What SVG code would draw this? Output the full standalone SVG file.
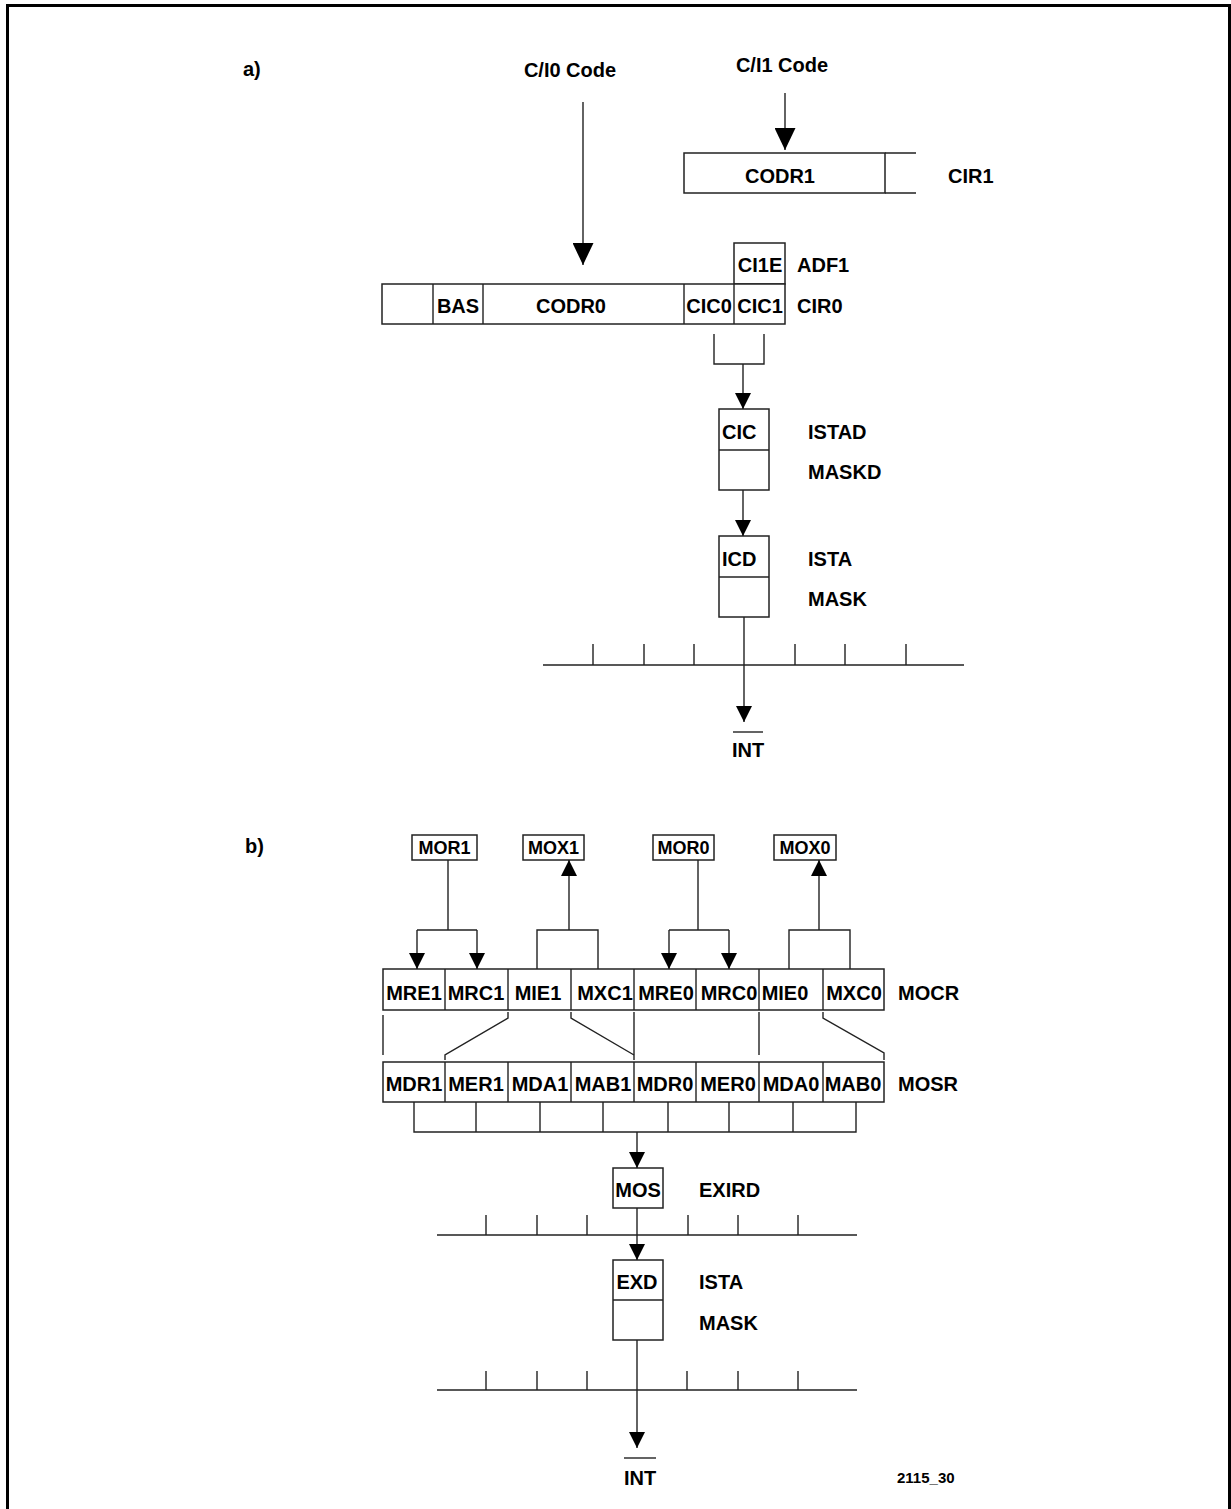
<svg xmlns="http://www.w3.org/2000/svg" width="1231" height="1509" viewBox="0 0 1231 1509">
<style>
.t{font-family:"Liberation Sans",Arial,sans-serif;font-size:20px;font-weight:bold;fill:#000}
.s{font-size:18px}
.c{text-anchor:middle}
.b{fill:#fff;stroke:#222;stroke-width:1.5}
.l{fill:none;stroke:#222;stroke-width:1.4}
</style>
<defs>
<marker id="big" markerUnits="userSpaceOnUse" markerWidth="22" markerHeight="21" refX="22" refY="10.5" orient="auto" viewBox="0 0 22 21"><path d="M0,0 L22,10.5 L0,21 Z" fill="#000"/></marker>
<marker id="sm" markerUnits="userSpaceOnUse" markerWidth="16" markerHeight="16" refX="16" refY="8" orient="auto" viewBox="0 0 16 16"><path d="M0,0 L16,8 L0,16 Z" fill="#000"/></marker>
</defs>
<rect width="1231" height="1509" fill="#fff"/>
<path d="M7.5,1509 V5.5 H1229.5 V1509" fill="none" stroke="#000" stroke-width="3"/>

<g id="labels">
<text class="t" x="243" y="76">a)</text>
<text class="t" x="245" y="853">b)</text>
<text class="t" x="897" y="1483" style="font-size:15px">2115_30</text>
</g>

<g id="ci0-code"><text class="t c" x="570" y="77">C/I0 Code</text></g>
<g id="ci1-code"><text class="t c" x="782" y="72">C/I1 Code</text></g>

<g id="cir1">
<rect class="b" x="684" y="153" width="201" height="40"/>
<path class="l" d="M885,153 H916 M885,193 H916"/>
<text class="t c" x="780" y="183">CODR1</text>
<text class="t" x="948" y="183">CIR1</text>
</g>

<g id="adf1">
<rect class="b" x="734" y="243" width="51" height="41"/>
<text class="t c" x="760" y="272">CI1E</text>
<text class="t" x="797" y="272">ADF1</text>
</g>

<g id="cir0">
<rect class="b" x="382" y="284" width="403" height="40"/>
<path class="l" d="M433,284 V324 M483,284 V324 M684,284 V324 M734,284 V324"/>
<text class="t c" x="458" y="313">BAS</text>
<text class="t c" x="571" y="313">CODR0</text>
<text class="t c" x="709" y="313">CIC0</text>
<text class="t c" x="760" y="313">CIC1</text>
<text class="t" x="797" y="313">CIR0</text>
</g>

<g id="istad">
<rect class="b" x="719" y="409" width="50" height="81"/>
<path class="l" d="M719,450 H769"/>
<text class="t" x="722" y="439">CIC</text>
<text class="t" x="808" y="439">ISTAD</text>
<text class="t" x="808" y="479">MASKD</text>
</g>

<g id="ista-a">
<rect class="b" x="719" y="536" width="50" height="81"/>
<path class="l" d="M719,577 H769"/>
<text class="t" x="722" y="566">ICD</text>
<text class="t" x="808" y="566">ISTA</text>
<text class="t" x="808" y="606">MASK</text>
</g>

<g id="bus-a">
<path class="l" d="M543,665 H964 M593,644 V665 M644,644 V665 M694,644 V665 M795,644 V665 M845,644 V665 M906,644 V665"/>
</g>

<g id="int-a">
<path class="l" d="M733,732 H763"/>
<text class="t c" x="748" y="757">INT</text>
</g>

<g id="mor1"><rect class="b" x="412" y="835" width="65" height="25"/><text class="t s c" x="444.5" y="854">MOR1</text></g>
<g id="mox1"><rect class="b" x="523" y="835" width="61" height="25"/><text class="t s c" x="553.5" y="854">MOX1</text></g>
<g id="mor0"><rect class="b" x="653" y="835" width="61" height="25"/><text class="t s c" x="683.5" y="854">MOR0</text></g>
<g id="mox0"><rect class="b" x="774" y="835" width="62" height="25"/><text class="t s c" x="805" y="854">MOX0</text></g>

<g id="mocr">
<rect class="b" x="383" y="969" width="501" height="41"/>
<path class="l" d="M445,969 V1010 M508,969 V1010 M571,969 V1010 M634,969 V1010 M696,969 V1010 M759,969 V1010 M823,969 V1010"/>
<text class="t c" x="414" y="1000">MRE1</text>
<text class="t c" x="476" y="1000">MRC1</text>
<text class="t c" x="538" y="1000">MIE1</text>
<text class="t c" x="605" y="1000">MXC1</text>
<text class="t c" x="666" y="1000">MRE0</text>
<text class="t c" x="729" y="1000">MRC0</text>
<text class="t c" x="785" y="1000">MIE0</text>
<text class="t c" x="854" y="1000">MXC0</text>
<text class="t" x="898" y="1000">MOCR</text>
</g>

<g id="mosr">
<rect class="b" x="383" y="1062" width="501" height="40"/>
<path class="l" d="M445,1062 V1102 M508,1062 V1102 M571,1062 V1102 M634,1062 V1102 M696,1062 V1102 M759,1062 V1102 M823,1062 V1102"/>
<text class="t c" x="414" y="1091">MDR1</text>
<text class="t c" x="476" y="1091">MER1</text>
<text class="t c" x="540" y="1091">MDA1</text>
<text class="t c" x="603" y="1091">MAB1</text>
<text class="t c" x="665" y="1091">MDR0</text>
<text class="t c" x="728" y="1091">MER0</text>
<text class="t c" x="791" y="1091">MDA0</text>
<text class="t c" x="853" y="1091">MAB0</text>
<text class="t" x="898" y="1091">MOSR</text>
</g>

<g id="mos">
<rect class="b" x="613" y="1168" width="50" height="40"/>
<text class="t c" x="638" y="1197">MOS</text>
<text class="t" x="699" y="1197">EXIRD</text>
</g>

<g id="bus-b1">
<path class="l" d="M437,1235 H857 M486,1215 V1235 M537,1215 V1235 M587,1215 V1235 M688,1215 V1235 M738,1215 V1235 M798,1215 V1235"/>
</g>

<g id="ista-b">
<rect class="b" x="613" y="1260" width="50" height="80"/>
<path class="l" d="M613,1300 H663"/>
<text class="t c" x="637" y="1289">EXD</text>
<text class="t" x="699" y="1289">ISTA</text>
<text class="t" x="699" y="1330">MASK</text>
</g>

<g id="bus-b2">
<path class="l" d="M437,1390 H857 M486,1371 V1390 M537,1371 V1390 M587,1371 V1390 M687,1371 V1390 M738,1371 V1390 M798,1371 V1390"/>
</g>

<g id="int-b">
<path class="l" d="M624,1458 H656"/>
<text class="t c" x="640" y="1485">INT</text>
</g>

<g id="connectors">
<path class="l" d="M583,102 V265" marker-end="url(#big)"/>
<path class="l" d="M785,93 V150" marker-end="url(#big)"/>
<path class="l" d="M714,334 V364 H764 V334"/>
<path class="l" d="M743,364 V409" marker-end="url(#sm)"/>
<path class="l" d="M743,490 V536" marker-end="url(#sm)"/>
<path class="l" d="M744,617 V722" marker-end="url(#sm)"/>

<path class="l" d="M448,860 V930 M417,930 H477"/>
<path class="l" d="M417,930 V969" marker-end="url(#sm)"/>
<path class="l" d="M477,930 V969" marker-end="url(#sm)"/>
<path class="l" d="M537,969 V930 H598 V969"/>
<path class="l" d="M569,930 V860" marker-end="url(#sm)"/>
<path class="l" d="M698,860 V930 M669,930 H729"/>
<path class="l" d="M669,930 V969" marker-end="url(#sm)"/>
<path class="l" d="M729,930 V969" marker-end="url(#sm)"/>
<path class="l" d="M789,969 V930 H850 V969"/>
<path class="l" d="M819,930 V860" marker-end="url(#sm)"/>

<path class="l" d="M383,1015 V1055"/>
<path class="l" d="M508,1012 V1018 L445,1055 V1060"/>
<path class="l" d="M571,1012 V1018 L634,1055"/>
<path class="l" d="M634,1012 V1060"/>
<path class="l" d="M759,1012 V1055"/>
<path class="l" d="M823,1012 V1018 L884,1053 V1060"/>

<path class="l" d="M414,1102 V1132 H856 V1102 M476,1102 V1132 M540,1102 V1132 M603,1102 V1132 M668,1102 V1132 M729,1102 V1132 M793,1102 V1132"/>
<path class="l" d="M637,1132 V1168" marker-end="url(#sm)"/>
<path class="l" d="M637,1208 V1260" marker-end="url(#sm)"/>
<path class="l" d="M637,1340 V1448" marker-end="url(#sm)"/>
</g>
</svg>
